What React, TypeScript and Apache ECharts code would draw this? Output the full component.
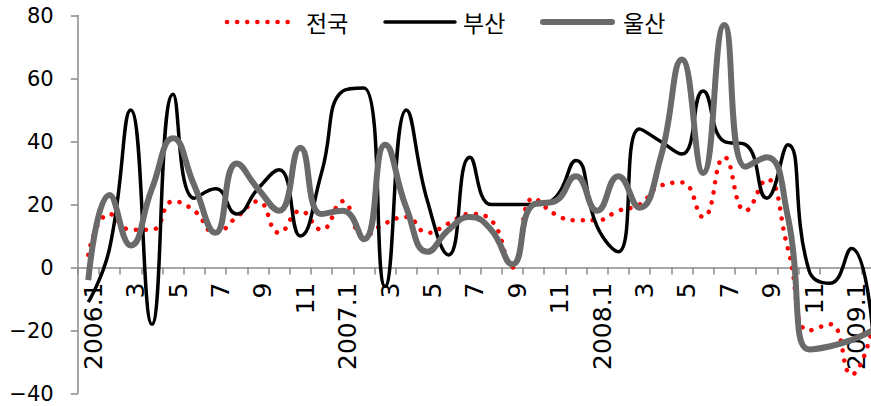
import React, { useEffect, useRef } from "react";
import * as echarts from "echarts";

const categories: string[] = [
  "2006.1", "2", "3", "4", "5", "6", "7", "8", "9", "10", "11", "12",
  "2007.1", "2", "3", "4", "5", "6", "7", "8", "9", "10", "11", "12",
  "2008.1", "2", "3", "4", "5", "6", "7", "8", "9", "10", "11", "12",
  "2009.1", "2",
];

const nationwide: number[] = [
  4, 17, 12, 12, 21, 18, 11, 16, 21, 11, 18, 12,
  21, 10, 14, 16, 11, 14, 17, 15, 0, 22, 17, 15,
  15, 18, 20, 26, 27, 16, 35, 18, 28, 6, -20, -18,
  -34, -19,
];

const busan: number[] = [
  -11, 6, 50, -18, 55, 22, 25, 17, 25, 31, 10, 30,
  56, 57, -6, 50, 21, 4, 35, 20, 20, 20, 22, 34,
  13, 5, 44, 40, 36, 56, 40, 39, 22, 39, -1, -5,
  6, -20,
];

const ulsan: number[] = [
  -4, 23, 7, 25, 41, 26, 11, 33, 25, 18, 38, 17,
  18, 9, 39, 19, 5, 12, 16, 12, 1, 20, 21, 29,
  18, 29, 19, 35, 66, 30, 77, 32, 35, 16, -26, -25,
  -23, -20,
];

const seriesNames = ["전국", "부산", "울산"];
const yTicks = { min: -40, max: 80, interval: 20 };

const axisColor = "#8a8a8a";
const colors = ["#ff0000", "#000000", "#6a6a6a"];
const widths = [4.5, 3.5, 6];
const dotDash = [0.1, 10];

const GRID_TOP = 15.5;
const GRID_BOTTOM = 12.5;
const CHART_H = 406;

export default function App() {
  const ref = useRef<HTMLDivElement>(null);

  useEffect(() => {
    if (!ref.current) return;
    const chart = echarts.init(ref.current, null, { renderer: "svg" });

    const legendLayout = [
      { x1: 227, x2: 293, tx: 306 },
      { x1: 385, x2: 455, tx: 463 },
      { x1: 543, x2: 612, tx: 623 },
    ];
    const legendY = 22;
    const legendGraphics: any[] = [];
    seriesNames.forEach((name, i) => {
      const l = legendLayout[i];
      legendGraphics.push({
        type: "line",
        shape: { x1: l.x1, y1: legendY, x2: l.x2, y2: legendY },
        style: {
          stroke: colors[i],
          lineWidth: widths[i],
          lineDash: i === 0 ? dotDash : null,
          lineCap: "round",
        },
        z: 10,
      });
      legendGraphics.push({
        type: "text",
        x: l.tx,
        y: legendY,
        style: {
          text: name,
          fill: "#000",
          font: "23px 'Noto Sans CJK KR'",
          verticalAlign: "middle",
          align: "left",
        },
        z: 10,
      });
    });

    const makeSeries = (name: string, data: number[], i: number) => ({
      name,
      type: "line",
      data,
      smooth: true,
      symbol: "none",
      showSymbol: false,
      lineStyle:
        i === 0
          ? { color: colors[i], width: widths[i], type: dotDash, cap: "round" }
          : { color: colors[i], width: widths[i] },
      itemStyle: { color: colors[i] },
      z: 2 + i,
    });

    // move the bottom x axis up so it sits at value 0
    const plotH = CHART_H - GRID_TOP - GRID_BOTTOM;
    const zeroFromBottom = (plotH * (0 - yTicks.min)) / (yTicks.max - yTicks.min);

    chart.setOption({
      animation: false,
      backgroundColor: "#ffffff",
      grid: {
        left: 77.7,
        right: -12.3,
        top: GRID_TOP,
        bottom: GRID_BOTTOM,
        containLabel: false,
        outerBoundsMode: "none",
      },
      graphic: legendGraphics,
      xAxis: {
        type: "category",
        data: categories,
        boundaryGap: true,
        position: "bottom",
        offset: -zeroFromBottom,
        axisLine: { onZero: false, lineStyle: { color: axisColor, width: 1.5 } },
        axisTick: { show: true, interval: 0, length: 7, lineStyle: { color: axisColor, width: 1.5 } },
        axisLabel: {
          interval: 1,
          rotate: 90,
          margin: 15,
          fontFamily: "DejaVu Sans",
          fontSize: 25,
          color: "#000",
          verticalAlign: "top",
          lineHeight: 10,
        },
        splitLine: { show: false },
      },
      yAxis: {
        type: "value",
        min: yTicks.min,
        max: yTicks.max,
        interval: yTicks.interval,
        axisLine: { show: true, lineStyle: { color: axisColor, width: 1.5 } },
        axisTick: { show: true, length: 7, lineStyle: { color: axisColor, width: 1.5 } },
        axisLabel: {
          margin: 24,
          fontFamily: "DejaVu Sans",
          fontSize: 21,
          color: "#000",
          formatter: (v: number) => (v < 0 ? "\u2212" + Math.abs(v) : String(v)),
        },
        splitLine: { show: false },
      },
      series: [
        makeSeries(seriesNames[0], nationwide, 0),
        makeSeries(seriesNames[1], busan, 1),
        makeSeries(seriesNames[2], ulsan, 2),
      ],
    });
    return () => chart.dispose();
  }, []);

  return (
    <div
      ref={ref}
      style={{ position: "absolute", left: 0, top: 0, width: 871, height: 406 }}
    />
  );
}
